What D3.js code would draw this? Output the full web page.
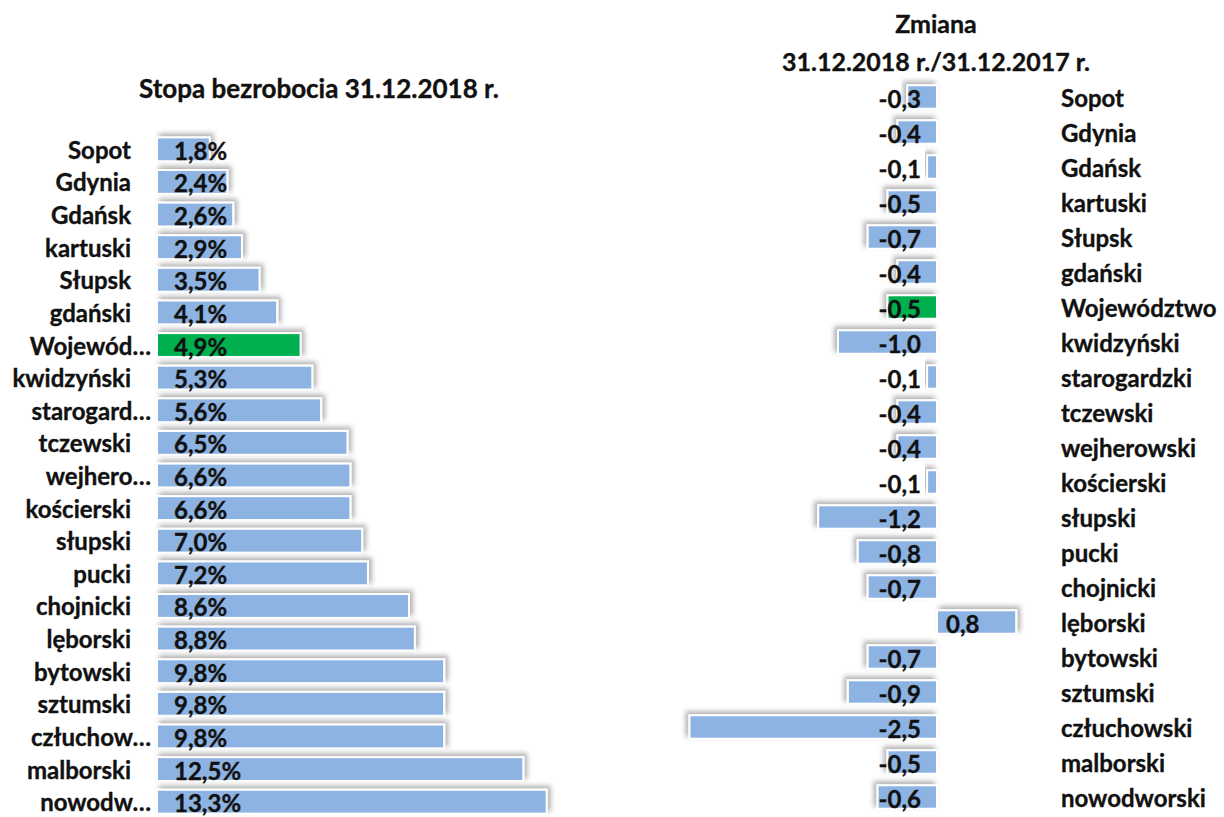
<!DOCTYPE html>
<html>
<head>
<meta charset="utf-8">
<script src="https://cdn.jsdelivr.net/npm/d3@7"></script>
<style>
  body { margin: 0; background: #fff; }
  svg text { font-family: Lato, "Open Sans", sans-serif; font-weight: bold; fill: #111; stroke: #111; stroke-width: 0.35px; }
</style>
</head>
<body>
<svg id="chart" width="1224" height="817"></svg>
<script>
// left panel: unemployment rate 31.12.2018 (%)
const rateCategories = ['Sopot', 'Gdynia', 'Gdańsk', 'kartuski', 'Słupsk', 'gdański', 'Województwo',
  'kwidzyński', 'starogardzki', 'tczewski', 'wejherowski', 'kościerski', 'słupski', 'pucki',
  'chojnicki', 'lęborski', 'bytowski', 'sztumski', 'człuchowski', 'malborski', 'nowodworski'];
const rateLabels = ['Sopot', 'Gdynia', 'Gdańsk', 'kartuski', 'Słupsk', 'gdański', 'Wojewód…',
  'kwidzyński', 'starogard…', 'tczewski', 'wejhero…', 'kościerski', 'słupski', 'pucki',
  'chojnicki', 'lęborski', 'bytowski', 'sztumski', 'człuchow…', 'malborski', 'nowodw…'];
const rateValues = [1.8, 2.4, 2.6, 2.9, 3.5, 4.1, 4.9, 5.3, 5.6, 6.5, 6.6, 6.6, 7.0, 7.2,
  8.6, 8.8, 9.8, 9.8, 9.8, 12.5, 13.3];

// right panel: change 31.12.2018 / 31.12.2017 (pp)
const changeCategories = ['Sopot', 'Gdynia', 'Gdańsk', 'kartuski', 'Słupsk', 'gdański', 'Województwo',
  'kwidzyński', 'starogardzki', 'tczewski', 'wejherowski', 'kościerski', 'słupski', 'pucki',
  'chojnicki', 'lęborski', 'bytowski', 'sztumski', 'człuchowski', 'malborski', 'nowodworski'];
const changeValues = [-0.3, -0.4, -0.1, -0.5, -0.7, -0.4, -0.5, -1.0, -0.1, -0.4, -0.4, -0.1,
  -1.2, -0.8, -0.7, 0.8, -0.7, -0.9, -2.5, -0.5, -0.6];

const highlight = 'Województwo';
const blue = '#8db3e2';
const green = '#00b050';
const fmt = v => d3.format('.1f')(v).replace('.', ',').replace('−', '-');
const fontSize = '24px';

const svg = d3.select('#chart');

const defs = svg.append('defs');
defs.append('filter')
    .attr('id', 'shadowR')
    .attr('x', '-20%').attr('y', '-50%').attr('width', '140%').attr('height', '200%')
  .append('feDropShadow')
    .attr('dx', 3).attr('dy', -3).attr('stdDeviation', 2.5)
    .attr('flood-color', '#000').attr('flood-opacity', 0.3);
defs.append('filter')
    .attr('id', 'shadowL')
    .attr('x', '-20%').attr('y', '-50%').attr('width', '140%').attr('height', '200%')
  .append('feDropShadow')
    .attr('dx', -3).attr('dy', -3).attr('stdDeviation', 2.5)
    .attr('flood-color', '#000').attr('flood-opacity', 0.3);

// ---- left chart
const rows = rateCategories.map((c, i) => ({ cat: c, label: rateLabels[i], value: rateValues[i] }));

const x1 = d3.scaleLinear().domain([0, 14]).range([157, 157 + 14 * 29.3]);
const y1 = d3.scaleBand().domain(rateCategories).range([133, 818]).paddingInner(0.27).paddingOuter(0.135);

svg.append('text')
    .attr('x', 319).attr('y', 88)
    .attr('text-anchor', 'middle')
    .attr('dominant-baseline', 'central')
    .style('font-size', '26px')
    .text('Stopa bezrobocia 31.12.2018 r.');

const left = svg.append('g');

left.selectAll('rect')
  .data(rows)
  .join('rect')
    .attr('x', x1(0))
    .attr('y', d => y1(d.cat))
    .attr('width', d => x1(d.value) - x1(0))
    .attr('height', y1.bandwidth())
    .attr('fill', d => d.cat === highlight ? green : blue)
    .attr('stroke', '#fff')
    .attr('stroke-width', 2)
    .attr('filter', 'url(#shadowR)');

left.append('line')
    .attr('x1', x1(0)).attr('x2', x1(0))
    .attr('y1', 133).attr('y2', 817)
    .attr('stroke', '#8c8c8c')
    .attr('stroke-width', 2)
    .attr('filter', 'url(#shadowR)');

left.selectAll('text.val')
  .data(rows)
  .join('text')
    .attr('class', 'val')
    .attr('x', x1(0) + 17)
    .attr('y', d => y1(d.cat) + y1.bandwidth() / 2 + 1)
    .attr('dominant-baseline', 'central')
    .style('font-size', fontSize)
    .text(d => `${fmt(d.value)}%`);

left.selectAll('text.cat')
  .data(rows)
  .join('text')
    .attr('class', 'cat')
    .attr('x', d => d.label.endsWith('…') ? 151 : 131)
    .attr('y', d => y1(d.cat) + y1.bandwidth() / 2)
    .attr('text-anchor', 'end')
    .attr('dominant-baseline', 'central')
    .style('font-size', fontSize)
    .text(d => d.label);

// ---- right chart
const rows2 = changeCategories.map((c, i) => ({ cat: c, value: changeValues[i] }));

const x2 = d3.scaleLinear().domain([-3, 1]).range([937 - 3 * 99, 937 + 99]);
const y2 = d3.scaleBand().domain(changeCategories).range([79.5, 814.5]).paddingInner(0.33).paddingOuter(0.165);

const title2 = svg.append('text')
    .attr('text-anchor', 'middle')
    .style('font-size', '25px');
title2.append('tspan').attr('x', 936).attr('y', 33).text('Zmiana');
title2.append('tspan').attr('x', 936).attr('y', 71).text('31.12.2018 r./31.12.2017 r.');

const right = svg.append('g');

right.selectAll('rect')
  .data(rows2)
  .join('rect')
    .attr('x', d => x2(Math.min(0, d.value)))
    .attr('y', d => y2(d.cat))
    .attr('width', d => Math.abs(x2(d.value) - x2(0)))
    .attr('height', y2.bandwidth())
    .attr('fill', d => d.cat === highlight ? green : blue)
    .attr('stroke', '#fff')
    .attr('stroke-width', 2)
    .attr('filter', d => d.value < 0 ? 'url(#shadowL)' : 'url(#shadowR)');

right.append('line')
    .attr('x1', x2(0)).attr('x2', x2(0))
    .attr('y1', 80).attr('y2', 817)
    .attr('stroke', '#8c8c8c')
    .attr('stroke-width', 2)
    .attr('filter', 'url(#shadowL)');

right.selectAll('text.val')
  .data(rows2)
  .join('text')
    .attr('class', 'val')
    .attr('x', d => d.value < 0 ? x2(0) - 16 : x2(0) + 9)
    .attr('y', d => y2(d.cat) + y2.bandwidth() / 2 + 1)
    .attr('text-anchor', d => d.value < 0 ? 'end' : 'start')
    .attr('dominant-baseline', 'central')
    .style('font-size', fontSize)
    .text(d => fmt(d.value));

right.selectAll('text.cat')
  .data(rows2)
  .join('text')
    .attr('class', 'cat')
    .attr('x', 1061)
    .attr('y', d => y2(d.cat) + y2.bandwidth() / 2)
    .attr('dominant-baseline', 'central')
    .style('font-size', fontSize)
    .text(d => d.cat);
</script>
</body>
</html>
